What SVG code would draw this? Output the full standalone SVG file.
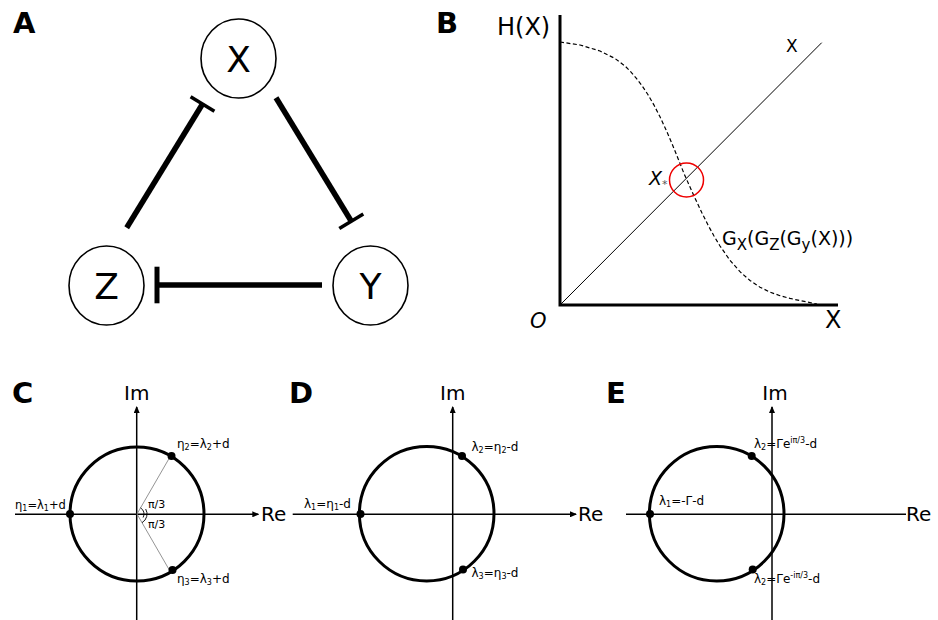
<svg xmlns="http://www.w3.org/2000/svg" width="938" height="620" viewBox="0 0 938 620">
<style>
  text { font-family: "DejaVu Sans", "Liberation Sans", sans-serif; fill: #000; }
  .panel { font-weight: bold; font-size: 29px; }
  .node { fill: #fff; stroke: #000; stroke-width: 1.6; }
  .nodeText { font-size: 36px; text-anchor: middle; }
  .inh { stroke: #000; stroke-width: 5.5; fill: none; }
  .bar { stroke: #000; stroke-width: 3.5; }
  .axis { stroke: #000; stroke-width: 3; fill: none; }
  .ax { stroke: #000; stroke-width: 1.5; fill: none; }
  .ring { stroke: #000; stroke-width: 3; fill: none; }
  .dot { fill: #000; }
  .lbl { font-size: 12px; }
  .axlbl { font-size: 20px; }
  .sub { font-size: 8px; }
</style>
<defs>
  <marker id="arr" markerUnits="userSpaceOnUse" markerWidth="7" markerHeight="6" refX="6" refY="3" orient="auto">
    <path d="M0,0 L7,3 L0,6 z" fill="#000"/>
  </marker>
</defs>

<!-- Panel A -->
<text class="panel" x="13" y="33">A</text>
<g id="connectors">
  <line class="inh" x1="126.7" y1="227.7" x2="202.5" y2="104"/>
  <line class="bar" x1="190.6" y1="96.7" x2="214.4" y2="111.3"/>
  <line class="inh" x1="276" y1="97.7" x2="351.3" y2="221.2"/>
  <line class="bar" x1="339.3" y1="228.5" x2="363.3" y2="213.9"/>
  <line class="inh" x1="322" y1="285" x2="157" y2="285"/>
  <line class="bar" style="stroke-width:5" x1="157" y1="266.7" x2="157" y2="303.3"/>
</g>
<g id="nodeX">
  <ellipse class="node" cx="238.5" cy="58.5" rx="37.5" ry="39.5"/>
  <text class="nodeText" x="238.5" y="72">X</text>
</g>
<g id="nodeZ">
  <ellipse class="node" cx="106.5" cy="285.5" rx="37.5" ry="39.5"/>
  <text class="nodeText" x="106.5" y="298.5">Z</text>
</g>
<g id="nodeY">
  <ellipse class="node" cx="370.5" cy="285.5" rx="37.5" ry="39.5"/>
  <text class="nodeText" x="370.5" y="298.5">Y</text>
</g>

<!-- Panel B -->
<g id="panelB">
  <text class="panel" x="436" y="33">B</text>
  <text x="497" y="35" style="font-size:24px">H(X)</text>
  <path class="axis" d="M560,15 L560,305 L838,305"/>
  <line x1="560" y1="305" x2="821.7" y2="42.7" stroke="#000" stroke-width="1"/>
  <path fill="none" stroke="#000" stroke-width="1.2" stroke-dasharray="4,2.5" d="M560,42 L580,45 L600,51 L615,58.5 L625,66 L630,71 L636,77.9 L642,85.6 L648,94.7 L654,105.1 L660,116.8 L666,129.7 L672,143.7 L678,158.4 L684,173.5 L690,187.1 L696,200.3 L702,213 L708,225 L714,236 L720,246 L730,260.3 L740,271.7 L750,280.5 L760,287.2 L770,292.1 L780,295.7 L790,298.4 L800,300.6 L817,304"/>
  <circle cx="686.5" cy="180" r="17" fill="none" stroke="#e00" stroke-width="1.5"/>
  <text x="786" y="52" style="font-size:17px">X</text>
  <text x="649" y="185" style="font-size:19px;font-style:italic">X<tspan style="font-size:11px;font-style:normal;fill:#555" dy="3">*</tspan></text>
  <text x="722" y="245" style="font-size:19px">G<tspan style="font-size:15px" dy="5">X</tspan><tspan dy="-5">(G</tspan><tspan style="font-size:15px" dy="5">Z</tspan><tspan dy="-5">(G</tspan><tspan style="font-size:15px" dy="5">y</tspan><tspan dy="-5">(X)))</tspan></text>
  <text x="530" y="328" style="font-size:21px;font-style:italic">O</text>
  <text x="825" y="328" style="font-size:24px">X</text>
</g>

<!-- Panel C -->
<g id="panelC">
  <text class="panel" x="12" y="403">C</text>
  <line class="ax" x1="136.7" y1="620" x2="136.7" y2="407" marker-end="url(#arr)"/>
  <line class="ax" x1="15" y1="514.3" x2="258.3" y2="514.3" marker-end="url(#arr)"/>
  <text class="axlbl" x="136.7" y="400" text-anchor="middle">Im</text>
  <text class="axlbl" x="261" y="521">Re</text>
  <circle class="ring" cx="137" cy="514" r="67"/>
  <line x1="137" y1="514" x2="170.5" y2="456" stroke="#888" stroke-width="0.9"/>
  <line x1="137" y1="514" x2="170.5" y2="572" stroke="#888" stroke-width="0.9"/>
  <path d="M140.5,507.9 A7,7 0 0 1 143.1,517.5" fill="none" stroke="#000" stroke-width="0.9"/>
  <path d="M145.7,509 A10,10 0 0 1 142,522.7" fill="none" stroke="#000" stroke-width="0.9"/>
  <circle class="dot" cx="70" cy="514" r="4"/>
  <circle class="dot" cx="171.5" cy="456" r="4"/>
  <circle class="dot" cx="172.5" cy="570" r="4"/>
  <text class="lbl" x="148" y="508" style="font-size:11px">π/3</text>
  <text class="lbl" x="148" y="528" style="font-size:11px">π/3</text>
  <text class="lbl" x="15" y="509" style="font-size:11.5px">η<tspan class="sub" dy="2">1</tspan><tspan dy="-2">=λ</tspan><tspan class="sub" dy="2">1</tspan><tspan dy="-2">+d</tspan></text>
  <text class="lbl" x="177" y="448">η<tspan class="sub" dy="2">2</tspan><tspan dy="-2">=λ</tspan><tspan class="sub" dy="2">2</tspan><tspan dy="-2">+d</tspan></text>
  <text class="lbl" x="177" y="583">η<tspan class="sub" dy="2">3</tspan><tspan dy="-2">=λ</tspan><tspan class="sub" dy="2">3</tspan><tspan dy="-2">+d</tspan></text>
</g>

<!-- Panel D -->
<g id="panelD">
  <text class="panel" x="289" y="403">D</text>
  <line class="ax" x1="452.7" y1="620" x2="452.7" y2="407" marker-end="url(#arr)"/>
  <line class="ax" x1="292.7" y1="514.3" x2="576" y2="514.3" marker-end="url(#arr)"/>
  <text class="axlbl" x="452.7" y="400" text-anchor="middle">Im</text>
  <text class="axlbl" x="578" y="521">Re</text>
  <circle class="ring" cx="426.7" cy="513.7" r="67.3"/>
  <circle class="dot" cx="360.5" cy="514" r="4"/>
  <circle class="dot" cx="462" cy="456" r="4"/>
  <circle class="dot" cx="463" cy="569.5" r="4"/>
  <text class="lbl" x="304" y="508">λ<tspan class="sub" dy="2">1</tspan><tspan dy="-2">=η</tspan><tspan class="sub" dy="2">1</tspan><tspan dy="-2">-d</tspan></text>
  <text class="lbl" x="471.5" y="451">λ<tspan class="sub" dy="2">2</tspan><tspan dy="-2">=η</tspan><tspan class="sub" dy="2">2</tspan><tspan dy="-2">-d</tspan></text>
  <text class="lbl" x="471.5" y="576.5">λ<tspan class="sub" dy="2">3</tspan><tspan dy="-2">=η</tspan><tspan class="sub" dy="2">3</tspan><tspan dy="-2">-d</tspan></text>
</g>

<!-- Panel E -->
<g id="panelE">
  <text class="panel" x="606" y="403">E</text>
  <line class="ax" x1="772" y1="620" x2="772" y2="407" marker-end="url(#arr)"/>
  <line class="ax" x1="626" y1="514.3" x2="906" y2="514.3"/>
  <text class="axlbl" x="775" y="400" text-anchor="middle">Im</text>
  <text class="axlbl" x="906" y="521">Re</text>
  <circle class="ring" cx="716.7" cy="513.7" r="67.3"/>
  <circle class="dot" cx="650" cy="514" r="4"/>
  <circle class="dot" cx="751.7" cy="456" r="4"/>
  <circle class="dot" cx="752.7" cy="569.5" r="4"/>
  <text class="lbl" x="659" y="505">λ<tspan class="sub" dy="2">1</tspan><tspan dy="-2">=-Γ-d</tspan></text>
  <text class="lbl" x="754" y="448">λ<tspan class="sub" dy="2">2</tspan><tspan dy="-2">=Γe</tspan><tspan class="sub" dy="-5">iπ/3</tspan><tspan dy="5">-d</tspan></text>
  <text class="lbl" x="754" y="583">λ<tspan class="sub" dy="2">2</tspan><tspan dy="-2">=Γe</tspan><tspan class="sub" dy="-5">-iπ/3</tspan><tspan dy="5">-d</tspan></text>
</g>
</svg>
